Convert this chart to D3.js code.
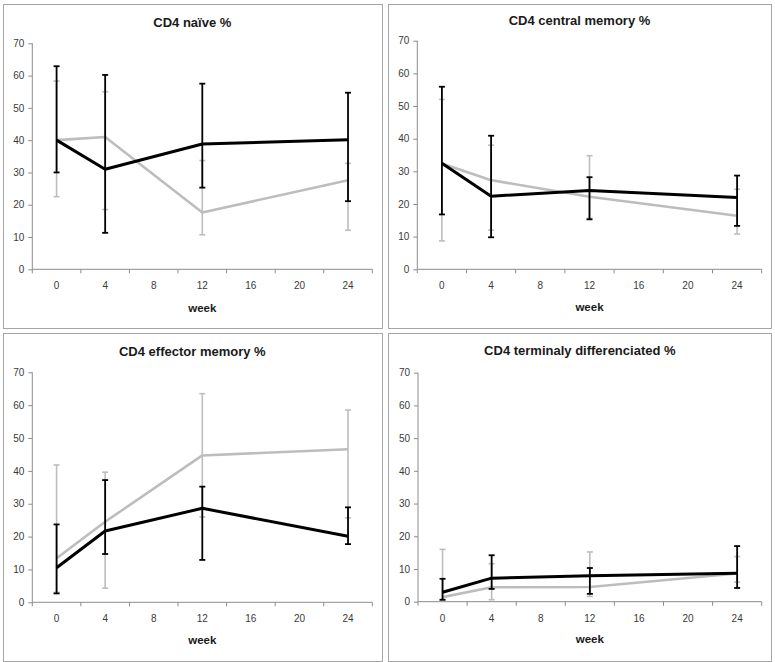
<!DOCTYPE html>
<html>
<head>
<meta charset="utf-8">
<script src="https://cdn.jsdelivr.net/npm/d3@7"></script>
<style>
  html, body { margin: 0; padding: 0; background: #fff; }
  svg { display: block; }
</style>
</head>
<body>
<svg id="chart" width="775" height="662"></svg>
<script>
// ---- data ----
const weeks = ["0", "4", "8", "12", "16", "20", "24"];
const dataWeeks = ["0", "4", "12", "24"];
const yTicks = [0, 10, 20, 30, 40, 50, 60, 70];
const titles = ["CD4 naïve %", "CD4 central memory %", "CD4 effector memory %", "CD4 terminaly differenciated %"];
const xLabel = "week";

// panel 1: naive
const naiveBlack = [40.0, 31.0, 38.8, 40.1];
const naiveBlackHigh = [62.9, 60.2, 57.5, 54.7];
const naiveBlackLow = [30.0, 11.3, 25.3, 21.1];
const naiveGray = [40.0, 41.0, 17.6, 27.6];
const naiveGrayHigh = [58.3, 55.0, 33.7, 32.8];
const naiveGrayLow = [22.5, 18.5, 10.7, 12.1];

// panel 2: central memory
const centralBlack = [32.5, 22.4, 24.1, 22.0];
const centralBlackHigh = [55.9, 40.9, 28.2, 28.7];
const centralBlackLow = [16.8, 9.8, 15.3, 13.3];
const centralGray = [32.4, 27.3, 22.2, 16.4];
const centralGrayHigh = [52.0, 38.0, 34.8, 24.5];
const centralGrayLow = [8.7, 12.0, 15.6, 10.8];

// panel 3: effector memory
const effectorBlack = [10.5, 21.7, 28.6, 20.1];
const effectorBlackHigh = [23.7, 37.2, 35.2, 28.9];
const effectorBlackLow = [2.7, 14.7, 12.9, 17.7];
const effectorGray = [13.4, 24.5, 44.7, 46.6];
const effectorGrayHigh = [41.8, 39.6, 63.5, 58.5];
const effectorGrayLow = [3.0, 4.3, 26.0, 25.7];

// panel 4: terminally differentiated
const terminalBlack = [2.9, 7.2, 7.9, 8.7];
const terminalBlackHigh = [7.0, 14.2, 10.3, 17.0];
const terminalBlackLow = [0.6, 3.9, 2.4, 4.2];
const terminalGray = [1.4, 4.4, 4.5, 8.6];
const terminalGrayHigh = [16.0, 11.6, 15.2, 13.8];
const terminalGrayLow = [0.5, 0.6, 1.6, 6.0];

const panelData = [
  { black: naiveBlack, blackHigh: naiveBlackHigh, blackLow: naiveBlackLow, gray: naiveGray, grayHigh: naiveGrayHigh, grayLow: naiveGrayLow },
  { black: centralBlack, blackHigh: centralBlackHigh, blackLow: centralBlackLow, gray: centralGray, grayHigh: centralGrayHigh, grayLow: centralGrayLow },
  { black: effectorBlack, blackHigh: effectorBlackHigh, blackLow: effectorBlackLow, gray: effectorGray, grayHigh: effectorGrayHigh, grayLow: effectorGrayLow },
  { black: terminalBlack, blackHigh: terminalBlackHigh, blackLow: terminalBlackLow, gray: terminalGray, grayHigh: terminalGrayHigh, grayLow: terminalGrayLow }
];

// ---- layout ----
const layouts = [
  { box: [3, 4, 382, 328], plot: [32.3, 372.3, 43.3, 269.3], titleY: 27, weekY: 311.5 },
  { box: [388, 4, 771, 328], plot: [417.3, 761.7, 40.7, 269.3], titleY: 25, weekY: 310.5 },
  { box: [3, 333, 382, 661], plot: [32.3, 372.3, 372.3, 602.3], titleY: 356, weekY: 643.5 },
  { box: [388, 333, 771, 661], plot: [418, 761.7, 372.7, 601.7], titleY: 355, weekY: 643 }
];

const FONT = "'Liberation Sans', Arial, sans-serif";
const svg = d3.select("#chart");
const axisColor = "#8c8c8c";
const labelColor = "#3a3a3a";
const grayColor = "#bdbdbd";

layouts.forEach((L, i) => {
  const d = panelData[i];
  const g = svg.append("g");
  const [bx0, by0, bx1, by1] = L.box;
  g.append("rect")
    .attr("x", bx0 + 0.5).attr("y", by0 + 0.5)
    .attr("width", bx1 - bx0).attr("height", by1 - by0)
    .attr("fill", "#fff").attr("stroke", "#a6a6a6").attr("stroke-width", 1);

  const [px0, px1, py0, py1] = L.plot;
  const x = d3.scaleBand().domain(weeks).range([px0, px1]).paddingInner(0).paddingOuter(0);
  const y = d3.scaleLinear().domain([0, 70]).range([py1, py0]);
  const cx = w => x(w) + x.bandwidth() / 2;

  // title
  g.append("text")
    .attr("x", (px0 + px1) / 2 - 10).attr("y", L.titleY)
    .attr("text-anchor", "middle")
    .attr("font-family", FONT).attr("font-weight", "bold").attr("font-size", 13)
    .attr("fill", "#1a1a1a")
    .text(titles[i]);

  // y axis
  const yAxis = d3.axisLeft(y).tickValues(yTicks).tickSize(4).tickPadding(4);
  const ya = g.append("g").attr("transform", `translate(${px0},0)`).call(yAxis);
  ya.select(".domain").attr("stroke", axisColor).attr("d", `M-0,${py1}V${py0}`);
  ya.selectAll(".tick line").attr("stroke", axisColor);
  ya.selectAll(".tick text").attr("fill", labelColor).attr("font-family", FONT).attr("font-size", 10);

  // x axis
  const xAxis = d3.axisBottom(x).tickSize(0).tickPadding(13);
  const xa = g.append("g").attr("transform", `translate(0,${py1})`).call(xAxis);
  xa.select(".domain").attr("stroke", axisColor).attr("d", `M${px0},0H${px1}`);
  xa.selectAll(".tick text").attr("fill", labelColor).attr("font-family", FONT).attr("font-size", 10);
  // boundary tick marks between categories
  const bounds = weeks.map(w => x(w)).concat([px1]);
  xa.selectAll("line.bound").data(bounds).join("line")
    .attr("class", "bound")
    .attr("x1", v => v).attr("x2", v => v)
    .attr("y1", 0).attr("y2", 4)
    .attr("stroke", axisColor);

  g.append("text")
    .attr("x", (px0 + px1) / 2).attr("y", L.weekY)
    .attr("text-anchor", "middle")
    .attr("font-family", FONT).attr("font-weight", "bold").attr("font-size", 11.5)
    .attr("fill", "#1a1a1a")
    .text(xLabel);

  const series = [
    { mean: d.gray, high: d.grayHigh, low: d.grayLow, color: grayColor, lw: 2.6, ew: 1.6 },
    { mean: d.black, high: d.blackHigh, low: d.blackLow, color: "#000", lw: 3, ew: 1.8 }
  ];
  const line = d3.line().x(p => cx(p.w)).y(p => y(p.v));

  series.forEach(s => {
    const pts = dataWeeks.map((w, k) => ({ w, v: s.mean[k], hi: s.high[k], lo: s.low[k] }));
    const eb = g.append("g");
    eb.selectAll("line.bar").data(pts).join("line")
      .attr("x1", p => cx(p.w)).attr("x2", p => cx(p.w))
      .attr("y1", p => y(p.hi)).attr("y2", p => y(p.lo))
      .attr("stroke", s.color).attr("stroke-width", s.ew);
    eb.selectAll("line.capHi").data(pts).join("line")
      .attr("x1", p => cx(p.w) - 3).attr("x2", p => cx(p.w) + 3)
      .attr("y1", p => y(p.hi)).attr("y2", p => y(p.hi))
      .attr("stroke", s.color).attr("stroke-width", s.ew);
    eb.selectAll("line.capLo").data(pts).join("line")
      .attr("x1", p => cx(p.w) - 3).attr("x2", p => cx(p.w) + 3)
      .attr("y1", p => y(p.lo)).attr("y2", p => y(p.lo))
      .attr("stroke", s.color).attr("stroke-width", s.ew);
    g.append("path").datum(pts)
      .attr("d", line)
      .attr("fill", "none")
      .attr("stroke", s.color).attr("stroke-width", s.lw)
      .attr("stroke-linejoin", "round");
  });
});
</script>
</body>
</html>
